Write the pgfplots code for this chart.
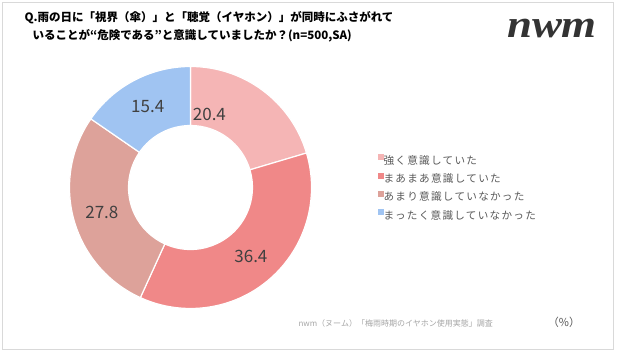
\documentclass[border=0pt]{standalone}
\usepackage{pgfplots}
\pgfplotsset{compat=1.18}
\usepackage{fontspec}
\setmainfont{Noto Sans CJK JP}
\newfontfamily\logofont{Liberation Serif}
\newfontfamily\legendfont[LetterSpace=12]{Noto Sans CJK JP}

\definecolor{cA}{HTML}{F5B5B5}
\definecolor{cB}{HTML}{F08888}
\definecolor{cC}{HTML}{DDA29A}
\definecolor{cD}{HTML}{A0C4F2}
\definecolor{labelgray}{HTML}{404040}
\definecolor{legendgray}{HTML}{595959}
\definecolor{notegray}{HTML}{A6A6A6}
\definecolor{framegray}{HTML}{D9D9D9}
\definecolor{logogray}{HTML}{333333}

% data (percent)
\def\vA{20.4}\def\vB{36.4}\def\vC{27.8}\def\vD{15.4}
% geometry (pixels)
\def\cx{190.5}\def\cy{187.5}\def\Ro{121}\def\Ri{62}
\pgfmathsetmacro\aA{90}
\pgfmathsetmacro\aB{\aA-3.6*\vA}
\pgfmathsetmacro\aC{\aB-3.6*\vB}
\pgfmathsetmacro\aD{\aC-3.6*\vC}
\pgfmathsetmacro\aE{\aD-3.6*\vD}
\pgfmathsetmacro\mB{(\aB+\aC)/2}
\pgfmathsetmacro\mC{(\aC+\aD)/2}
\pgfmathsetmacro\mD{(\aD+\aE)/2}

\newcommand\donutslice[3]{%
  \fill[#3, draw=white, line width=1.2pt]
    (axis cs:{\cx+\Ro*cos(#1)},{\cy-\Ro*sin(#1)})
    arc[start angle=#1, end angle=#2, radius=\Ro pt]
    -- (axis cs:{\cx+\Ri*cos(#2)},{\cy-\Ri*sin(#2)})
    arc[start angle=#2, end angle=#1, radius=\Ri pt] -- cycle;}
\newcommand\donutlabel[3]{%
  \node[font=\fontsize{17}{20}\selectfont, text=labelgray]
    at (axis cs:{\cx+#2*cos(#1)},{\cy-#2*sin(#1)}) {#3};}

\begin{document}
\begin{tikzpicture}
\begin{axis}[
  width=640pt, height=352pt, scale only axis,
  xmin=0, xmax=640, ymin=0, ymax=352, y dir=reverse,
  hide axis, clip=false,
  legend image code/.code={\fill[#1] (0pt,1.8pt) rectangle (5pt,6.8pt);},
  legend style={at={(axis cs:378,154)}, anchor=north west, draw=none, fill=none,
    inner sep=0pt, row sep=5.4pt,
    font=\legendfont\fontsize{10.6}{12}\selectfont, text=legendgray,
    nodes={inner sep=0pt, text height=9pt, text depth=3pt, xshift=3.5pt}},
  legend cell align=left,
]
\fill[white] (axis cs:0,0) rectangle (axis cs:640,352);
\draw[framegray, line width=1pt] (axis cs:2,2.5) rectangle (axis cs:613,349.5);

\addlegendimage{cA}\addlegendentry{強く意識していた}
\addlegendimage{cB}\addlegendentry{まあまあ意識していた}
\addlegendimage{cC}\addlegendentry{あまり意識していなかった}
\addlegendimage{cD}\addlegendentry{まったく意識していなかった}

\donutslice{\aA}{\aB}{cA}
\donutslice{\aB}{\aC}{cB}
\donutslice{\aC}{\aD}{cC}
\donutslice{\aD}{\aE}{cD}

\donutlabel{75.4}{75}{\vA}
\donutlabel{\mB}{92}{\vB}
\donutlabel{\mC}{92}{\vC}
\donutlabel{\mD}{92}{\vD}

\node[anchor=west, font=\fontsize{11.5}{14}\selectfont\bfseries] at (axis cs:21,18)
  {Q.雨の日に「視界（傘）」と「聴覚（イヤホン）」が同時にふさがれて};
\node[anchor=west, font=\fontsize{11.5}{14}\selectfont\bfseries] at (axis cs:29,36)
  {いることが“危険である”と意識していましたか？(n=500,SA)};

\node[anchor=base, text=logogray] at (axis cs:552,38)
  {\scalebox{1.15}[1]{\logofont\fontsize{39}{40}\selectfont\bfseries\itshape nwm}};

\node[anchor=west, text=notegray, font=\fontsize{8}{9}\selectfont] at (axis cs:295,323)
  {nwm（ヌーム）「梅雨時期のイヤホン使用実態」調査};
\node[text=legendgray, font=\fontsize{11}{12}\selectfont] at (axis cs:564,322) {（\%）};
\end{axis}
\end{tikzpicture}
\end{document}
